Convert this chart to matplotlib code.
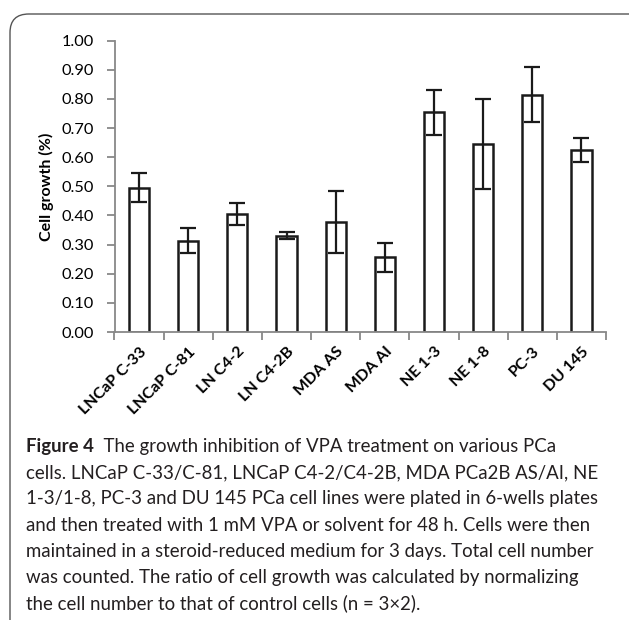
import numpy as np
import matplotlib.pyplot as plt
from matplotlib.patches import FancyBboxPatch

# Data
cells = ['LNCaP C-33', 'LNCaP C-81', 'LN C4-2', 'LN C4-2B', 'MDA AS',
         'MDA AI', 'NE 1-3', 'NE 1-8', 'PC-3', 'DU 145']
growth = [0.496, 0.314, 0.406, 0.331, 0.377, 0.256, 0.754, 0.645, 0.815, 0.624]
err = [0.050, 0.042, 0.037, 0.013, 0.106, 0.049, 0.078, 0.154, 0.093, 0.042]
yticks = np.arange(0, 1.01, 0.1)

caption_head = 'Figure 4'
caption_first = '  The growth inhibition of VPA treatment on various PCa'
caption_rest = [
    'cells. LNCaP C-33/C-81, LNCaP C4-2/C4-2B, MDA PCa2B AS/AI, NE',
    '1-3/1-8, PC-3 and DU 145 PCa cell lines were plated in 6-wells plates',
    'and then treated with 1 mM VPA or solvent for 48 h. Cells were then',
    'maintained in a steroid-reduced medium for 3 days. Total cell number',
    'was counted. The ratio of cell growth was calculated by normalizing',
    'the cell number to that of control cells (n = 3\u00d72).',
]

plt.rcParams['font.family'] = ['Lato', 'DejaVu Sans']

fig = plt.figure(figsize=(6.29, 6.20), dpi=100)

# rounded frame around the figure panel (runs off the right and bottom edges)
frame = FancyBboxPatch((10 / 629, -0.2), 1.2, 1.2 - 14 / 620,
                       boxstyle='round,pad=0,rounding_size=0.03',
                       transform=fig.transFigure, facecolor='none',
                       edgecolor='#555555', linewidth=1.0)
fig.patches.append(frame)

ax = fig.add_axes([114.5 / 629, 1 - 332 / 620, (606 - 114.5) / 629, (332 - 40.7) / 620])
x = np.arange(len(cells))
ax.bar(x, growth, width=0.41, color='white', edgecolor='#1a1a1a', linewidth=1.8,
       yerr=err, error_kw=dict(ecolor='#1a1a1a', elinewidth=1.6, capsize=5.5, capthick=1.6))

ax.set_xlim(-0.5, len(cells) - 0.5)
ax.set_ylim(0, 1.0)
ax.set_yticks(yticks)
ax.set_yticklabels([f'{v:.2f}' for v in yticks], fontsize=11.8)
# category boundaries carry the tick marks, labels sit under the bar centres
ax.set_xticks(np.arange(-0.5, len(cells)))
ax.set_xticklabels([])
ax.set_xticks(x, minor=True)
ax.set_xticklabels(cells, minor=True, rotation=45, ha='right', rotation_mode='anchor',
                   fontsize=11.5, fontweight='bold')
ax.tick_params(axis='x', which='minor', length=0, pad=9)
ax.tick_params(axis='x', which='major', length=6, color='#888888', width=1.3)
ax.tick_params(axis='y', length=6, color='#888888', width=1.3, pad=9)

for s in ['top', 'right']:
    ax.spines[s].set_visible(False)
for s in ['left', 'bottom']:
    ax.spines[s].set_color('#888888')
    ax.spines[s].set_linewidth(1.3)

ax.set_ylabel('Cell growth (%)', fontsize=11.5, fontweight='bold', labelpad=5)

# caption
y0 = 1 - 455 / 620
head = fig.text(26 / 629, y0, caption_head, fontsize=13.4, fontweight='bold', va='bottom',
                color='#231f20')
ax.annotate(caption_first, xy=(1, 0), xycoords=head, va='bottom', ha='left',
            fontsize=13.4, color='#231f20', annotation_clip=False)
for i, line in enumerate(caption_rest):
    fig.text(26 / 629, y0 - (i + 1) * 26.2 / 620, line, fontsize=13.4, va='bottom',
             color='#231f20')

fig.savefig('out.png', dpi=100)
